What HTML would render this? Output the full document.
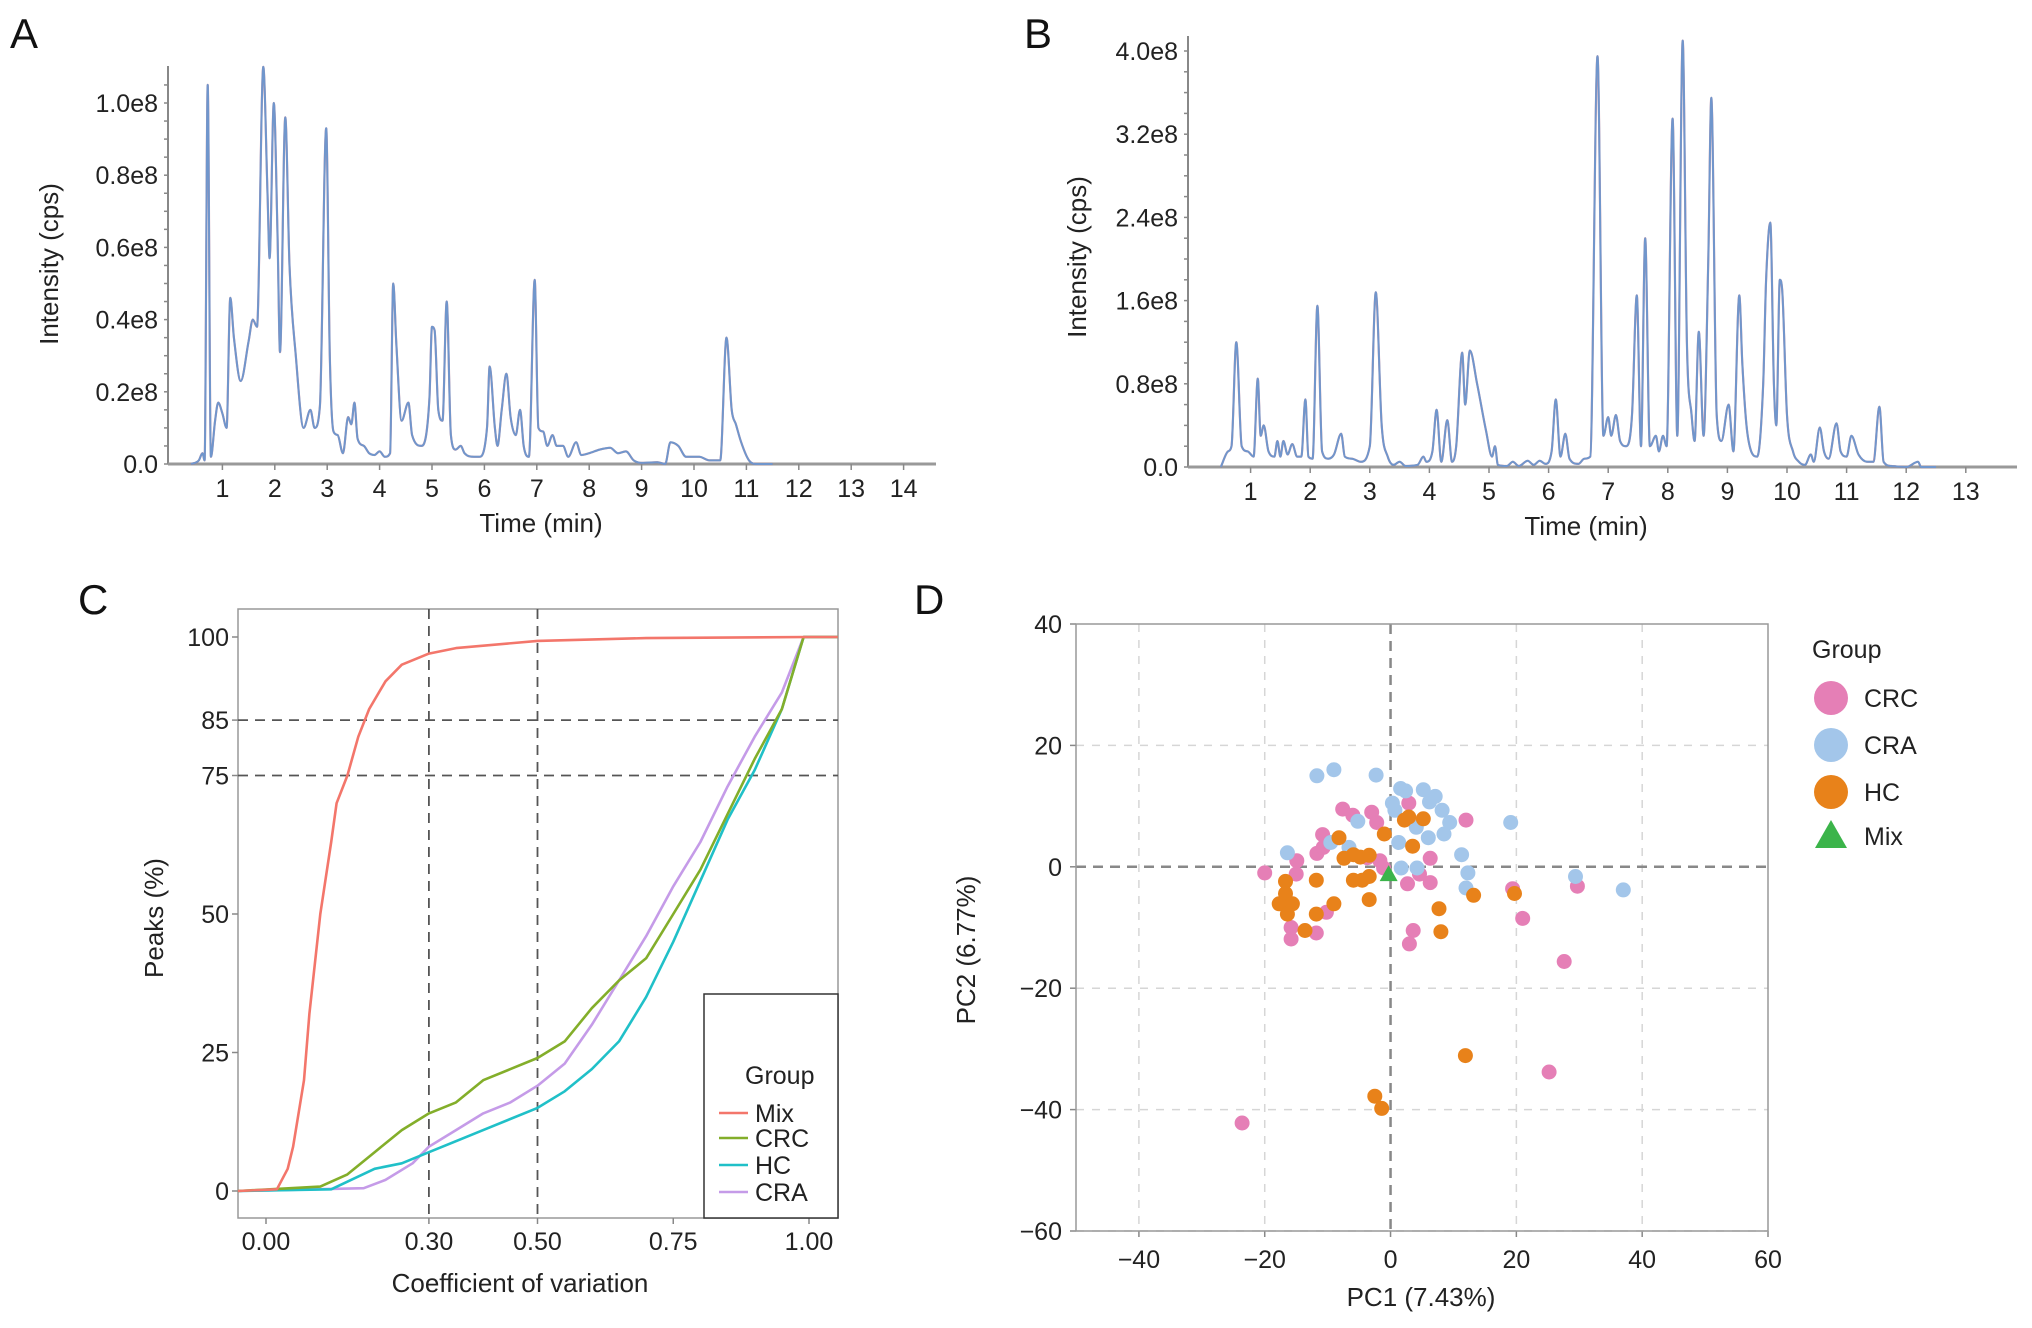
<!DOCTYPE html>
<html><head><meta charset="utf-8"><style>
html,body{margin:0;padding:0;background:#fff}
svg{display:block;font-family:"Liberation Sans",sans-serif}
</style></head><body>
<svg id="fig" width="2032" height="1328" viewBox="0 0 2032 1328" xmlns="http://www.w3.org/2000/svg">
<g id="pA"></g>
<g id="pB"></g>
<g id="pC"></g>
<g id="pD"></g>
</svg>
<script>
// ---- data ----
const traceA = [[0.4,0],[0.55,0.01],[0.62,0.03],[0.66,0.01],[0.72,1.05],[0.78,0.02],[0.86,0.12],[0.92,0.17],[1.0,0.14],[1.08,0.10],[1.15,0.46],[1.22,0.35],[1.35,0.23],[1.5,0.34],[1.58,0.40],[1.66,0.38],[1.78,1.10],[1.86,0.75],[1.9,0.57],[1.98,1.00],[2.05,0.65],[2.1,0.31],[2.2,0.96],[2.28,0.55],[2.4,0.3],[2.55,0.10],[2.68,0.15],[2.76,0.10],[2.86,0.16],[2.98,0.93],[3.05,0.3],[3.12,0.09],[3.2,0.08],[3.3,0.03],[3.4,0.13],[3.46,0.11],[3.52,0.17],[3.58,0.07],[3.7,0.05],[3.8,0.03],[3.9,0.025],[4.0,0.035],[4.1,0.02],[4.2,0.03],[4.26,0.50],[4.32,0.33],[4.42,0.12],[4.55,0.17],[4.62,0.08],[4.8,0.05],[4.95,0.18],[5.0,0.38],[5.05,0.37],[5.12,0.15],[5.2,0.12],[5.28,0.45],[5.36,0.08],[5.45,0.04],[5.55,0.05],[5.62,0.03],[5.8,0.02],[5.9,0.02],[6.05,0.1],[6.1,0.27],[6.2,0.1],[6.25,0.05],[6.33,0.15],[6.42,0.25],[6.5,0.13],[6.6,0.08],[6.68,0.15],[6.75,0.05],[6.85,0.02],[6.96,0.51],[7.03,0.10],[7.12,0.09],[7.2,0.05],[7.3,0.08],[7.38,0.05],[7.5,0.05],[7.6,0.02],[7.75,0.06],[7.85,0.025],[8.0,0.03],[8.2,0.04],[8.4,0.045],[8.55,0.03],[8.7,0.035],[8.85,0.01],[9.0,0.003],[9.3,0.005],[9.45,0.0],[9.55,0.06],[9.7,0.05],[9.85,0.02],[10.1,0.02],[10.3,0.01],[10.5,0.01],[10.62,0.35],[10.72,0.15],[10.8,0.11],[10.9,0.06],[11.05,0.01],[11.2,0.0],[11.5,0.0]];
const traceB = [[0.5,0],[0.62,0.15],[0.68,0.2],[0.76,1.2],[0.85,0.2],[0.95,0.15],[1.05,0.1],[1.12,0.85],[1.17,0.3],[1.22,0.4],[1.3,0.15],[1.4,0.1],[1.45,0.25],[1.5,0.1],[1.55,0.25],[1.62,0.12],[1.7,0.22],[1.78,0.1],[1.85,0.1],[1.92,0.65],[1.97,0.1],[2.04,0.08],[2.12,1.55],[2.2,0.15],[2.3,0.08],[2.4,0.12],[2.52,0.32],[2.58,0.1],[2.7,0.08],[2.85,0.05],[3.0,0.2],[3.1,1.68],[3.2,0.4],[3.3,0.1],[3.4,0.02],[3.5,0.05],[3.6,0.01],[3.8,0.02],[3.9,0.1],[3.95,0.05],[4.05,0.15],[4.12,0.55],[4.2,0.05],[4.3,0.45],[4.38,0.05],[4.45,0.2],[4.55,1.1],[4.6,0.6],[4.68,1.12],[4.8,0.8],[4.95,0.35],[5.05,0.1],[5.1,0.2],[5.15,0.02],[5.3,0.01],[5.4,0.05],[5.5,0.01],[5.65,0.06],[5.75,0.02],[5.85,0.06],[5.95,0.03],[6.05,0.15],[6.12,0.65],[6.2,0.1],[6.28,0.32],[6.35,0.08],[6.5,0.03],[6.6,0.08],[6.7,0.1],[6.82,3.95],[6.92,0.3],[7.0,0.48],[7.05,0.3],[7.13,0.5],[7.2,0.25],[7.3,0.2],[7.4,0.5],[7.48,1.65],[7.55,0.2],[7.62,2.2],[7.7,0.2],[7.8,0.3],[7.85,0.15],[7.92,0.3],[7.98,0.2],[8.08,3.35],[8.16,0.3],[8.25,4.1],[8.32,1.2],[8.4,0.5],[8.45,0.25],[8.52,1.3],[8.6,0.3],[8.68,2.0],[8.73,3.55],[8.82,0.5],[8.9,0.25],[9.02,0.6],[9.1,0.15],[9.2,1.65],[9.25,1.0],[9.32,0.4],[9.4,0.15],[9.5,0.1],[9.6,0.8],[9.65,1.8],[9.72,2.35],[9.78,0.8],[9.82,0.4],[9.88,1.8],[9.92,1.7],[10.0,0.5],[10.1,0.15],[10.2,0.05],[10.3,0.02],[10.4,0.12],[10.45,0.05],[10.55,0.38],[10.62,0.15],[10.7,0.08],[10.83,0.42],[10.9,0.15],[11.0,0.1],[11.08,0.3],[11.2,0.12],[11.35,0.05],[11.45,0.05],[11.55,0.58],[11.62,0.05],[11.75,0.01],[12.0,0],[12.2,0.05],[12.25,0],[12.5,0]];
const ticksAx = [1,2,3,4,5,6,7,8,9,10,11,12,13,14];
const ticksAy = [0,0.2,0.4,0.6,0.8,1.0];
const labelsAy = ["0.0","0.2e8","0.4e8","0.6e8","0.8e8","1.0e8"];
const ticksBx = [1,2,3,4,5,6,7,8,9,10,11,12,13];
const ticksBy = [0,0.8,1.6,2.4,3.2,4.0];
const labelsBy = ["0.0","0.8e8","1.6e8","2.4e8","3.2e8","4.0e8"];

const cvMix = [[-0.052,0],[0.02,0.3],[0.04,4],[0.05,8],[0.07,20],[0.08,32],[0.1,50],[0.12,63],[0.13,70],[0.15,75],[0.17,82],[0.19,87],[0.22,92],[0.25,95],[0.3,97],[0.35,98],[0.5,99.3],[0.7,99.8],[1.0,100],[1.053,100]];
const cvCRC = [[-0.052,0],[0.1,0.8],[0.15,3],[0.2,7],[0.25,11],[0.3,14],[0.35,16],[0.4,20],[0.45,22],[0.5,24],[0.55,27],[0.6,33],[0.65,38],[0.7,42],[0.75,50],[0.8,58],[0.85,68],[0.9,78],[0.95,87],[0.99,100],[1.053,100]];
const cvHC = [[-0.052,0],[0.12,0.3],[0.2,4],[0.25,5],[0.3,7],[0.4,11],[0.5,15],[0.55,18],[0.6,22],[0.65,27],[0.7,35],[0.75,45],[0.8,56],[0.85,67],[0.9,76],[0.95,87],[0.99,100],[1.053,100]];
const cvCRA = [[-0.052,0],[0.18,0.5],[0.22,2],[0.27,5],[0.3,8],[0.35,11],[0.4,14],[0.45,16],[0.5,19],[0.55,23],[0.6,30],[0.65,38],[0.7,46],[0.75,55],[0.8,63],[0.85,73],[0.9,82],[0.95,90],[0.99,100],[1.053,100]];
const ticksCx = [0,0.3,0.5,0.75,1.0];
const labelsCx = ["0.00","0.30","0.50","0.75","1.00"];
const ticksCy = [0,25,50,75,85,100];

const pcaCRC = [[-20,-1],[-14.9,1],[-15,-1.2],[-10.8,5.3],[-11.7,2.2],[-7.6,9.5],[-6,8.5],[-3,9],[-2.2,7.3],[2.9,10.5],[12,7.7],[6.3,1.4],[4.6,-1.2],[6.3,-2.6],[19.4,-3.6],[29.7,-3.2],[21,-8.5],[27.6,-15.6],[25.2,-33.8],[-23.6,-42.2],[-15.8,-10],[-15.8,-11.9],[-11.8,-10.9],[-10.2,-7.5],[3.6,-10.5],[3,-12.7],[-3.7,1.5],[-1.7,1],[-1.1,-0.2],[-10.7,3.2],[2.7,-2.8]];
const pcaCRA = [[-11.7,15],[-9,16],[-2.3,15.1],[-16.4,2.3],[-9.5,4],[-6.6,3.2],[-5.2,7.5],[0.7,9.3],[1.6,12.9],[2.4,12.5],[5.2,12.7],[7.1,11.6],[6.2,10.7],[8.2,9.3],[9.4,7.3],[8.5,5.4],[6,4.8],[1.3,4],[4.1,6.5],[19.1,7.3],[11.3,2],[12.3,-1],[12,-3.5],[29.4,-1.6],[37,-3.8],[1.7,-0.2],[4.2,-0.2],[0.3,10.5]];
const pcaHC = [[-8.2,4.8],[-7.4,1.4],[-5.9,2],[-4.8,1.6],[-3.4,1.9],[-5.9,-2.2],[-4.5,-2.2],[-3.4,-1.6],[-1,5.4],[2.2,7.7],[2.9,8.2],[5.2,7.9],[3.5,3.4],[-3.4,-5.4],[-9,-6.1],[-11.8,-2.2],[-11.8,-7.8],[-13.6,-10.5],[-16.7,-2.4],[-16.7,-4.4],[-17.7,-6.1],[-15.6,-6.1],[-16.4,-7.8],[7.7,-6.9],[8,-10.7],[13.2,-4.7],[19.7,-4.4],[11.9,-31.1],[-2.5,-37.8],[-1.4,-39.8]];
const pcaMix = [[-0.3,-1.2]];
const ticksDx = [-40,-20,0,20,40,60];
const ticksDy = [-60,-40,-20,0,20,40];

// ---- helpers ----
const NS = "http://www.w3.org/2000/svg";
function mk(parent, tag, attrs, text){
  const e = document.createElementNS(NS, tag);
  for (const k in attrs) e.setAttribute(k, attrs[k]);
  if (text !== undefined) e.textContent = text;
  parent.appendChild(e);
  return e;
}
function lin(d0,d1,r0,r1){ return v => r0 + (v-d0)/(d1-d0)*(r1-r0); }
const TXT = "#222";
// monotone cubic path through pixel points
function monoPath(P){
  const n = P.length; if (n<2) return '';
  const d=[], m=[];
  for (let i=0;i<n-1;i++) d.push((P[i+1][1]-P[i][1])/(P[i+1][0]-P[i][0]));
  m[0]=d[0]; m[n-1]=d[n-2];
  for (let i=1;i<n-1;i++) m[i] = (d[i-1]*d[i]<=0) ? 0 : (d[i-1]+d[i])/2;
  for (let i=0;i<n-1;i++){
    if (d[i]===0){ m[i]=0; m[i+1]=0; continue; }
    const a=m[i]/d[i], b=m[i+1]/d[i], s=a*a+b*b;
    if (s>9){ const t=3/Math.sqrt(s); m[i]=t*a*d[i]; m[i+1]=t*b*d[i]; }
  }
  let s = `M${P[0][0].toFixed(1)},${P[0][1].toFixed(1)}`;
  for (let i=0;i<n-1;i++){
    const h=(P[i+1][0]-P[i][0])/3;
    s += ` C${(P[i][0]+h).toFixed(1)},${(P[i][1]+m[i]*h).toFixed(1)} ${(P[i+1][0]-h).toFixed(1)},${(P[i+1][1]-m[i+1]*h).toFixed(1)} ${P[i+1][0].toFixed(1)},${P[i+1][1].toFixed(1)}`;
  }
  return s;
}

// ---- chromatogram panels ----
function chrom(g, trace, ax, ayT, ayL, geo, letter, lx, ly){
  const X = lin(0,1,geo.x0,geo.x1), Y = lin(0,1,geo.y0,geo.y1);
  let t = mk(g,'text',{x:lx,y:ly,'font-size':42,fill:'#111'},letter);
   
  let l = mk(g,'line',{x1:geo.ax,y1:geo.top,x2:geo.ax,y2:geo.y0,stroke:'#888','stroke-width':2});
   
  for (let v=0; v<=geo.ymax; v+=geo.minor){
    const m = mk(g,'line',{x1:geo.ax-4,y1:Y(v),x2:geo.ax,y2:Y(v),stroke:'#888','stroke-width':1.5});
     
  }
  ayT.forEach((v,i)=>{
    const tl = mk(g,'text',{x:geo.ax-10,y:Y(v)+9,'font-size':25,fill:TXT,'text-anchor':'end'},ayL[i]);
     
  });
  l = mk(g,'line',{x1:geo.ax,y1:geo.y0,x2:geo.right,y2:geo.y0,stroke:'#999','stroke-width':3});
   
  ax.forEach(v=>{
    const tk = mk(g,'line',{x1:X(v),y1:geo.y0,x2:X(v),y2:geo.y0+6,stroke:'#888','stroke-width':1.5});
     
    const tl = mk(g,'text',{x:X(v),y:geo.y0+33,'font-size':25,fill:TXT,'text-anchor':'middle'},String(v));
     
  });
  t = mk(g,'text',{x:geo.tx,y:geo.y0+68,'font-size':26,fill:TXT,'text-anchor':'middle'},'Time (min)');
   
  t = mk(g,'text',{x:0,y:0,'font-size':26,fill:TXT,'text-anchor':'middle',transform:`translate(${geo.yx},${geo.yy}) rotate(-90)`},'Intensity (cps)');
   
  const path = monoPath(trace.map(p=>[X(p[0]),Y(p[1])]));
  let pl = mk(g,'path',{d:path,fill:'none',stroke:'#c05060','stroke-width':2.2,'stroke-linejoin':'round','stroke-opacity':0.6});
   
  pl = mk(g,'path',{d:path,fill:'none',stroke:'#7096cc','stroke-width':2,'stroke-linejoin':'round'});
   
}
chrom(document.getElementById('pA'), traceA, ticksAx, ticksAy, labelsAy,
  {x0:170,x1:222.4,y0:464,y1:103,ax:168,top:66,right:936,ymax:1.1,minor:0.05,tx:541,yx:58,yy:264}, 'A', 10, 48);
chrom(document.getElementById('pB'), traceB, ticksBx, ticksBy, labelsBy,
  {x0:1191,x1:1250.6,y0:467,y1:363,ax:1188,top:36,right:2017,ymax:4.1,minor:0.2,tx:1586,yx:1086,yy:257}, 'B', 1024, 48);

// ---- panel C ----
(function(){
  const g = document.getElementById('pC');
  const X = lin(0,1,266,809), Y = lin(0,100,1191,637);
  const L=238,R=838,T=609,B=1218;
  let t = mk(g,'text',{x:78,y:614,'font-size':42,fill:'#111'},'C');
   
  let r = mk(g,'rect',{x:L,y:T,width:R-L,height:B-T,fill:'none',stroke:'#999','stroke-width':1.5});
   
  [0.3,0.5].forEach(v=>{
    const d = mk(g,'line',{x1:X(v),y1:T,x2:X(v),y2:B,stroke:'#555','stroke-width':1.8,'stroke-dasharray':'10,7'});
     
  });
  [85,75].forEach(v=>{
    const d = mk(g,'line',{x1:L,y1:Y(v),x2:R,y2:Y(v),stroke:'#555','stroke-width':1.8,'stroke-dasharray':'10,7'});
     
  });
  ticksCy.forEach(v=>{
    const tk = mk(g,'line',{x1:L-6,y1:Y(v),x2:L,y2:Y(v),stroke:'#888','stroke-width':1.5});
     
    const tl = mk(g,'text',{x:229,y:Y(v)+9,'font-size':25,fill:TXT,'text-anchor':'end'},String(v));
     
  });
  ticksCx.forEach((v,i)=>{
    const tk = mk(g,'line',{x1:X(v),y1:B,x2:X(v),y2:B+6,stroke:'#888','stroke-width':1.5});
     
    const tl = mk(g,'text',{x:X(v),y:1250,'font-size':25,fill:TXT,'text-anchor':'middle'},labelsCx[i]);
     
  });
  t = mk(g,'text',{x:520,y:1292,'font-size':26,fill:TXT,'text-anchor':'middle'},'Coefficient of variation');
   
  t = mk(g,'text',{x:0,y:0,'font-size':26,fill:TXT,'text-anchor':'middle',transform:'translate(163,918) rotate(-90)'},'Peaks (%)');
   
  const series = [['CRA',cvCRA,'#c59be8'],['HC',cvHC,'#20c0c8'],['CRC',cvCRC,'#83ae2a'],['Mix',cvMix,'#f3766b']];
  series.forEach(s=>{
    const pl = mk(g,'polyline',{points:s[1].map(p=>`${X(p[0]).toFixed(1)},${Y(p[1]).toFixed(1)}`).join(' '),fill:'none',stroke:s[2],'stroke-width':2.6,'stroke-linejoin':'round'});
     
  });
  const lg = mk(g,'g',{});
   
  r = mk(lg,'rect',{x:704,y:994,width:134,height:224,fill:'#fff',stroke:'#333','stroke-width':1.5});
   
  t = mk(lg,'text',{x:745,y:1084,'font-size':25,fill:TXT},'Group');
   
  [['Mix','#f3766b',1113],['CRC','#83ae2a',1138],['HC','#20c0c8',1165],['CRA','#c59be8',1192]].forEach(e=>{
    const gg = mk(lg,'g',{});
     
    mk(gg,'line',{x1:719,y1:e[2],x2:748,y2:e[2],stroke:e[1],'stroke-width':2.5});
    mk(gg,'text',{x:755,y:e[2]+9,'font-size':25,fill:TXT},e[0]);
  });
})();

// ---- panel D ----
(function(){
  const g = document.getElementById('pD');
  const X = lin(-50,60,1076,1768), Y = lin(-60,40,1231,624);
  const L=1076,R=1768,T=624,B=1231;
  let t = mk(g,'text',{x:914,y:614,'font-size':42,fill:'#111'},'D');
   
  ticksDx.forEach(v=>{
    if (v!==0 && v!==60){
      const gl = mk(g,'line',{x1:X(v),y1:T,x2:X(v),y2:B,stroke:'#d6d6d6','stroke-width':1.5,'stroke-dasharray':'8,8'});
       
    }
    const tk = mk(g,'line',{x1:X(v),y1:B,x2:X(v),y2:B+6,stroke:'#888','stroke-width':1.5});
     
    const tl = mk(g,'text',{x:X(v),y:1268,'font-size':25,fill:TXT,'text-anchor':'middle'},v<0?'\u2212'+(-v):String(v));
     
  });
  ticksDy.forEach(v=>{
    if (v!==0 && v!==40){
      const gl = mk(g,'line',{x1:L,y1:Y(v),x2:R,y2:Y(v),stroke:'#d6d6d6','stroke-width':1.5,'stroke-dasharray':'8,8'});
       
    }
    const tk = mk(g,'line',{x1:L-6,y1:Y(v),x2:L,y2:Y(v),stroke:'#888','stroke-width':1.5});
     
    const tl = mk(g,'text',{x:1062,y:Y(v)+9,'font-size':25,fill:TXT,'text-anchor':'end'},v<0?'\u2212'+(-v):String(v));
     
  });
  let z = mk(g,'line',{x1:X(0),y1:T,x2:X(0),y2:B,stroke:'#888','stroke-width':2.5,'stroke-dasharray':'10,7'});
   
  z = mk(g,'line',{x1:L,y1:Y(0),x2:R,y2:Y(0),stroke:'#888','stroke-width':2.5,'stroke-dasharray':'10,7'});
   
  let r = mk(g,'rect',{x:L,y:T,width:R-L,height:B-T,fill:'none',stroke:'#999','stroke-width':1.5});
   
  t = mk(g,'text',{x:1421,y:1306,'font-size':26,fill:TXT,'text-anchor':'middle'},'PC1 (7.43%)');
   
  t = mk(g,'text',{x:0,y:0,'font-size':26,fill:TXT,'text-anchor':'middle',transform:'translate(975,950) rotate(-90)'},'PC2 (6.77%)');
   
  const groups = [['crc',pcaCRC,'#e57fb6'],['cra',pcaCRA,'#a3c6ea'],['hc',pcaHC,'#e8821a']];
  groups.forEach(gr=>{
    gr[1].forEach(p=>{
      const c = mk(g,'circle',{cx:X(p[0]).toFixed(1),cy:Y(p[1]).toFixed(1),r:7.5,fill:gr[2]});
      
      
    });
  });
  pcaMix.forEach(p=>{
    const x=X(p[0]), y=Y(p[1]);
    const tr = mk(g,'polygon',{points:`${x},${y-9} ${x-9},${y+7} ${x+9},${y+7}`,fill:'#3bb44a'});
    
    
  });
  const lg = mk(g,'g',{});
   
  t = mk(lg,'text',{x:1812,y:658,'font-size':25,fill:TXT},'Group');
   
  [['CRC','#e57fb6',698],['CRA','#a3c6ea',745],['HC','#e8821a',792]].forEach(e=>{
    const gg = mk(lg,'g',{});
     
    mk(gg,'circle',{cx:1831,cy:e[2],r:17,fill:e[1]});
    mk(gg,'text',{x:1864,y:e[2]+9,'font-size':25,fill:TXT},e[0]);
  });
  const gm = mk(lg,'g',{});
   
  mk(gm,'polygon',{points:'1831,820 1815,848 1847,848',fill:'#3bb44a'});
  mk(gm,'text',{x:1864,y:845,'font-size':25,fill:TXT},'Mix');
})();
</script>
</body></html>
